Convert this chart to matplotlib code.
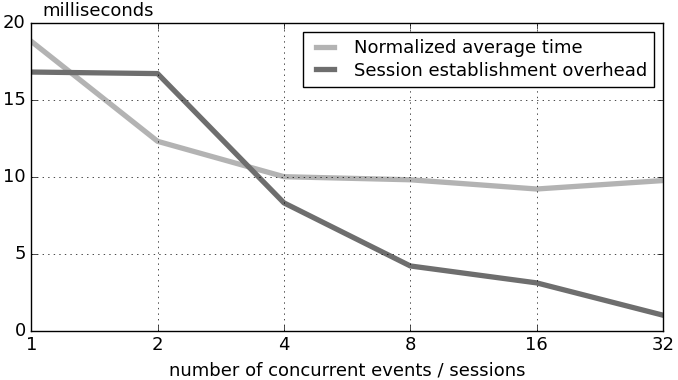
import matplotlib
matplotlib.use("Agg")
import matplotlib.pyplot as plt

# concurrent events / sessions
concurrency = [1, 2, 4, 8, 16, 32]
avg_time = [18.8, 12.3, 10.0, 9.8, 9.2, 9.75]
session_overhead = [16.8, 16.7, 8.3, 4.2, 3.1, 1.0]

plt.style.use("classic")
fig, ax = plt.subplots(figsize=(6.78, 3.8), dpi=100)
fig.subplots_adjust(left=0.046, right=0.978, top=0.94, bottom=0.13)

ax.plot(concurrency, avg_time, color="#b3b3b3", lw=3.8, label="Normalized average time")
ax.plot(concurrency, session_overhead, color="#6e6e6e", lw=3.8, label="Session establishment overhead")

ax.set_xscale("log", base=2)
ax.set_xlim(1, 32)
ax.set_ylim(0, 20)
ax.set_xticks(concurrency)
ax.set_xticklabels([str(c) for c in concurrency])
ax.set_yticks([0, 5, 10, 15, 20])
ax.minorticks_off()
ax.tick_params(labelsize=13)
ax.grid(True, linestyle=":", color="black")
ax.set_xlabel("number of concurrent events / sessions", fontsize=13)
ax.text(0.017, 1.01, "milliseconds", transform=ax.transAxes, fontsize=13, ha="left", va="bottom")
ax.legend(loc="upper right", fontsize=13, handlelength=1.6, labelspacing=0.25,
          borderpad=0.4, borderaxespad=0.5)

fig.savefig("out.png", dpi=100)
